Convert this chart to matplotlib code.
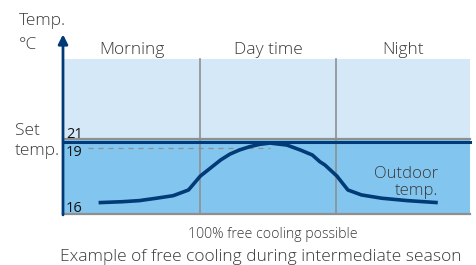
import matplotlib.pyplot as plt

# outdoor temperature through the day (hours, deg C)
hours = [2.1, 3.5, 4.5, 5.5, 6.5, 7.4, 8.1, 8.7, 9.3, 9.85, 10.4, 11.0, 11.6, 12.2,
         13.2, 14.0, 14.7, 15.15, 15.45, 16.15, 16.8, 17.6, 18.8, 20.3, 22.1]
outdoor = [16.02, 16.07, 16.13, 16.26, 16.40, 16.71, 17.47, 17.91, 18.35, 18.67, 18.89, 19.07,
           19.20, 19.27, 19.16, 18.89, 18.62, 18.25, 18.07, 17.47, 16.71, 16.44, 16.26, 16.13, 16.02]

periods = ["Morning", "Day time", "Night"]
period_edges = [0, 8.1, 16.1, 24]
set_temp = 19.35
upper_line = 19.5
dashed_temp = 19.0
dashed_end = 12.2
tick_labels = ["21", "19", "16"]

navy = "#003b78"
light = "#d5e8f8"
mid = "#82c6ef"
grey = "#8f8f8f"
txt = "#3a3a3a"
font = "Open Sans"

W, H = 477, 265
fig = plt.figure(figsize=(W / 100, H / 100), dpi=100)
ax = fig.add_axes([0, 0, 1, 1])
ax.set_xlim(-3.715, 24.413)
ax.set_ylim(12.618, 27.073)
ax.axis("off")

def fx(x):
    return x / W

def fy(y):
    return 1 - y / H

# background bands
ax.axhspan(upper_line, 23.855, xmin=fx(63), xmax=fx(470), color=light, lw=0)
ax.axhspan(15.40, upper_line, xmin=fx(63), xmax=fx(470), color=mid, lw=0)

# period dividers
for e in period_edges[1:-1]:
    ax.plot([e, e], [15.40, 23.855], color=grey, lw=1.2)

ax.plot([0, 24], [upper_line, upper_line], color=grey, lw=1.6)
ax.plot([0, 24], [15.42, 15.42], color=grey, lw=1.6)
ax.plot([0, 24], [set_temp, set_temp], color=navy, lw=2.2)
ax.plot([1.5, dashed_end], [dashed_temp, dashed_temp], color=grey, lw=0.9, ls=(0, (4, 4)))

# outdoor curve
ax.plot(hours, outdoor, color=navy, lw=2.6, solid_capstyle="butt", solid_joinstyle="round")

# vertical axis arrow
ax.annotate("", xy=(0, 25.2), xytext=(0, 15.35),
            arrowprops=dict(arrowstyle="-|>", color=navy, lw=2, mutation_scale=14,
                            shrinkA=0, shrinkB=0))

for name, a, b in zip(periods, period_edges[:-1], period_edges[1:]):
    ax.text((a + b) / 2, 23.9, name, ha="center", va="bottom", fontsize=12.5,
            family=font, weight="light", color=txt)

def label(x, y, s, size=12.5, ha="left", color=txt, weight="light"):
    fig.text(fx(x), fy(y), s, ha=ha, va="center", fontsize=size, family=font,
             weight=weight, color=color)

label(19, 21, "Temp.")
label(19, 45, "°C")
label(15, 131, "Set")
label(15, 151, "temp.")

for lab, y in zip(tick_labels, [134, 153, 208]):
    label(66, y, lab, size=10.5, color="#111111", weight="normal")

label(438, 174, "Outdoor", size=12, ha="right")
label(438, 191, "temp.", size=12, ha="right")

label(273, 234, "100% free cooling possible", size=10.2, ha="center")
label(261, 257, "Example of free cooling during intermediate season", size=12.5, ha="center")

fig.savefig("out.png", dpi=100)
